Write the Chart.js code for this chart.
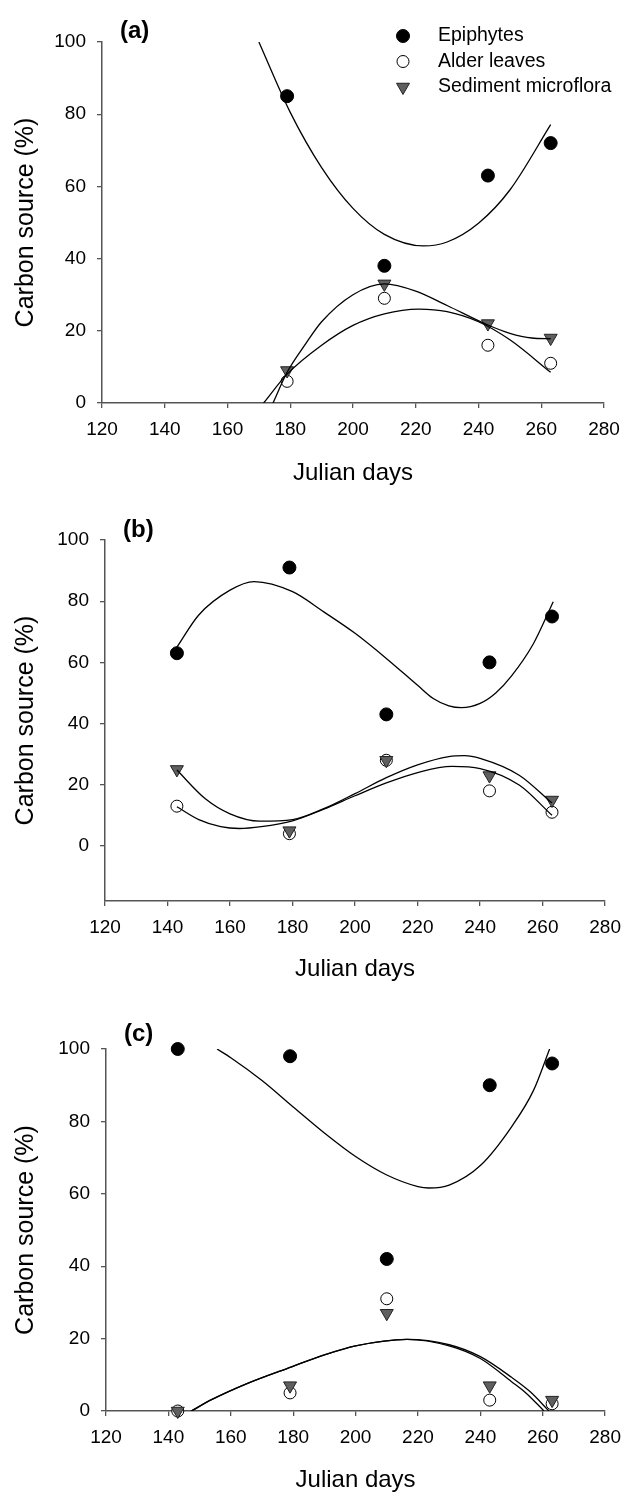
<!DOCTYPE html>
<html lang="en">
<head>
<meta charset="UTF-8">
<title>Carbon source by Julian day</title>
<style>
  html, body { margin: 0; padding: 0; background: #fff; }
  body { width: 631px; height: 1495px; position: relative; overflow: hidden; }
  canvas { position: absolute; left: 0; }
</style>
</head>
<body>
<canvas id="chartA" width="631" height="490" style="top:0px"></canvas>
<canvas id="chartB" width="631" height="496" style="top:490px"></canvas>
<canvas id="chartC" width="631" height="509" style="top:986px"></canvas>
<script src="https://cdn.jsdelivr.net/npm/chart.js"></script>
<script>
// sampling days and axis ticks
const days = [143, 179, 210, 243, 263];
const xTicks = [120, 140, 160, 180, 200, 220, 240, 260, 280];
const yTicks = [0, 20, 40, 60, 80, 100];
const seriesNames = ['Epiphytes', 'Alder leaves', 'Sediment microflora'];

// panel (a) - no sample on day 143
const aEpiphytes = [null, 85, 38, 63, 72];
const aAlder = [null, 6, 29, 16, 11];
const aSediment = [null, 9, 33, 22, 18];

// panel (b)
const bEpiphytes = [63, 91, 43, 60, 75];
const bAlder = [13, 4, 28, 18, 11];
const bSediment = [25, 5, 28, 23, 15];

// panel (c)
const cEpiphytes = [100, 98, 42, 90, 96];
const cAlder = [0, 5, 31, 3, 2];
const cSediment = [0, 7, 27, 7, 3];

// fitted curves
const aEpiFitX = [170, 180, 190, 200, 210, 222.5, 230, 240, 250, 263];
const aEpiFitY = [100, 80.5, 65.2, 53.9, 46.7, 43.5, 44.6, 49.8, 59, 77.1];
const aAlderFitX = [171.5, 179, 190, 200, 210, 221, 230, 240, 250, 263];
const aAlderFitY = [0, 8, 16, 21.5, 24.7, 26, 25.3, 22.5, 17.5, 8.5];
const aSedFitX = [174.5, 179, 185, 190, 200, 210, 220, 230, 243, 250, 257, 263];
const aSedFitY = [0, 8.5, 16.5, 22.5, 30, 33, 31, 27, 21.6, 19.3, 18, 17.8];

const bEpiFitX = [143, 150, 160, 167.7, 180, 190, 200, 210, 220, 225, 230, 234, 240, 245, 250, 257, 263.4];
const bEpiFitY = [65, 75.5, 83.6, 86.4, 83.1, 76.5, 69.5, 61.3, 52.5, 48.2, 45.8, 45.2, 46.6, 50, 55.5, 66, 79.8];
const bAlderFitX = [143, 150, 157, 163, 170, 180, 190, 200, 210, 220, 231, 240, 252.5, 263];
const bAlderFitY = [12.8, 8.6, 6.3, 5.7, 6.3, 8.2, 12, 16.4, 20.6, 24, 26, 25.3, 19.9, 10];
const bSedFitX = [143, 152, 160, 169.5, 180, 190, 200, 210, 220, 230, 235, 240, 252.5, 263];
const bSedFitY = [24.8, 15.5, 10.5, 8.1, 8.6, 12.2, 17.1, 22.3, 26.5, 29.2, 29.5, 28.6, 23.1, 14];

const cEpiFitX = [155.6, 160, 170, 180, 190, 200, 210, 220, 223.5, 230, 240, 250, 257, 262.2];
const cEpiFitY = [100, 97.6, 91.3, 84, 76.8, 70.3, 65.2, 62, 61.6, 62.4, 67.8, 78.5, 88.5, 100];
const cAlderFitX = [147.3, 154, 165, 179.5, 190, 200, 216.5, 230, 240, 250, 254.6, 260.4];
const cAlderFitY = [0, 3.2, 7.5, 12.2, 15.5, 18, 19.8, 18, 14.5, 8.1, 5, 0];
const cSedFitX = [147.3, 154, 165, 179.5, 190, 200, 216.5, 230, 240, 250, 256, 262];
const cSedFitY = [0, 3.2, 7.5, 12.2, 15.5, 18, 19.8, 18.3, 15, 9.3, 5.3, 0];

const FONT = '"Liberation Sans", Arial, Helvetica, sans-serif';

// draw order: lower "order" ends up on top (alder below sediment below epiphytes)
const markerStyles = [
  { pointStyle: 'circle', pointRadius: 6.5, pointRotation: 0, backgroundColor: '#000', borderColor: '#000', borderWidth: 1, order: 1 },
  { pointStyle: 'circle', pointRadius: 6, pointRotation: 0, backgroundColor: '#fff', borderColor: '#000', borderWidth: 1, order: 3 },
  { pointStyle: 'triangle', pointRadius: 7.5, pointRotation: 180, backgroundColor: '#5f5f5f', borderColor: '#222', borderWidth: 1, order: 2 }
];

const pts = (xs, ys) => xs.map((x, i) => ({ x: x, y: ys[i] })).filter(p => p.y !== null);

const markerSet = (label, values, style) => ({
  label: label,
  data: pts(days, values),
  showLine: false,
  clip: false,
  pointStyle: style.pointStyle,
  pointRadius: style.pointRadius,
  pointHoverRadius: style.pointRadius,
  pointRotation: style.pointRotation,
  pointBackgroundColor: style.backgroundColor,
  pointBorderColor: style.borderColor,
  pointBorderWidth: style.borderWidth,
  backgroundColor: style.backgroundColor,
  borderColor: style.borderColor,
  order: style.order
});

const curveSet = (xs, ys) => ({
  label: 'fit',
  data: pts(xs, ys),
  showLine: true,
  pointRadius: 0,
  pointHoverRadius: 0,
  borderColor: '#000',
  borderWidth: 1.3,
  cubicInterpolationMode: 'monotone',
  fill: false,
  order: 0
});

// "(a)", "(b)", "(c)" above the plot area
const panelLabel = {
  id: 'panelLabel',
  afterDraw(chart, args, opts) {
    const { ctx, chartArea } = chart;
    ctx.save();
    ctx.font = 'bold 24px ' + FONT;
    ctx.fillStyle = '#000';
    ctx.textBaseline = 'middle';
    ctx.textAlign = 'left';
    ctx.fillText(opts.text, chartArea.left + opts.dx, chartArea.top - opts.dy);
    ctx.restore();
  }
};

// legend of the first panel only
const seriesKey = {
  id: 'seriesKey',
  afterDraw(chart, args, opts) {
    if (!opts.show) return;
    const { ctx } = chart;
    ctx.save();
    ctx.font = '19.5px ' + FONT;
    ctx.textBaseline = 'middle';
    ctx.textAlign = 'left';
    seriesNames.forEach((name, i) => {
      const st = markerStyles[i];
      const y = opts.rows[i];
      ctx.fillStyle = st.backgroundColor;
      ctx.strokeStyle = st.borderColor;
      ctx.lineWidth = st.borderWidth;
      Chart.helpers.drawPoint(ctx, {
        pointStyle: st.pointStyle, radius: st.pointRadius, rotation: st.pointRotation, borderWidth: st.borderWidth
      }, opts.markerX, y);
      ctx.fillStyle = '#000';
      ctx.fillText(name, opts.textX, y);
    });
    ctx.restore();
  }
};

function makePanel(id, letter, ep, al, se, fits, box) {
  return new Chart(document.getElementById(id), {
    type: 'scatter',
    data: {
      datasets: [
        curveSet(fits[0], fits[1]),
        curveSet(fits[2], fits[3]),
        curveSet(fits[4], fits[5]),
        markerSet(seriesNames[0], ep, markerStyles[0]),
        markerSet(seriesNames[1], al, markerStyles[1]),
        markerSet(seriesNames[2], se, markerStyles[2])
      ]
    },
    options: {
      responsive: false,
      animation: false,
      devicePixelRatio: 1,
      layout: { padding: { left: 0, top: box.padTop, right: box.padRight, bottom: 0 } },
      plugins: {
        legend: { display: false },
        tooltip: { enabled: false },
        panelLabel: { text: '(' + letter + ')', dx: 18, dy: box.labelDy },
        seriesKey: { show: letter === 'a', markerX: 403, textX: 438, rows: [36, 61.5, 87] }
      },
      scales: {
        x: {
          type: 'linear',
          min: 120,
          max: 280,
          afterBuildTicks: s => { s.ticks = xTicks.map(v => ({ value: v })); },
          afterFit: s => { s.height = box.xHeight; },
          grid: { drawOnChartArea: false, drawTicks: true, tickLength: 5, color: '#555', lineWidth: 1.3 },
          border: { display: true, color: '#555', width: 1.5 },
          ticks: { autoSkip: false, maxRotation: 0, padding: 10, color: '#000', font: { family: FONT, size: 19 } },
          title: { display: true, text: 'Julian days', color: '#000', font: { family: FONT, size: 24 }, padding: { top: 0, bottom: box.xTitlePad } }
        },
        y: {
          type: 'linear',
          min: box.yMin,
          max: 100,
          afterBuildTicks: s => { s.ticks = yTicks.map(v => ({ value: v })); },
          afterFit: s => { s.width = box.yWidth; },
          grid: { drawOnChartArea: false, drawTicks: true, tickLength: 5, color: '#555', lineWidth: 1.3 },
          border: { display: true, color: '#555', width: 1.5 },
          ticks: { padding: 11, color: '#000', font: { family: FONT, size: 19 } },
          title: { display: true, text: 'Carbon source (%)', color: '#000', font: { family: FONT, size: 25 }, padding: { top: 11, bottom: 0 } }
        }
      }
    },
    plugins: [panelLabel, seriesKey]
  });
}

makePanel('chartA', 'a', aEpiphytes, aAlder, aSediment,
  [aEpiFitX, aEpiFitY, aAlderFitX, aAlderFitY, aSedFitX, aSedFitY],
  { padTop: 42, padRight: 27, yWidth: 102, xHeight: 87, yMin: 0, labelDy: 11, xTitlePad: 2 });

makePanel('chartB', 'b', bEpiphytes, bAlder, bSediment,
  [bEpiFitX, bEpiFitY, bAlderFitX, bAlderFitY, bSedFitX, bSedFitY],
  { padTop: 50, padRight: 24, yWidth: 105, xHeight: 85, yMin: -18, labelDy: 10, xTitlePad: 2 });

makePanel('chartC', 'c', cEpiphytes, cAlder, cSediment,
  [cEpiFitX, cEpiFitY, cAlderFitX, cAlderFitY, cSedFitX, cSedFitY],
  { padTop: 63, padRight: 21, yWidth: 106, xHeight: 84, yMin: 0, labelDy: 15, xTitlePad: 0 });
</script>
</body>
</html>
